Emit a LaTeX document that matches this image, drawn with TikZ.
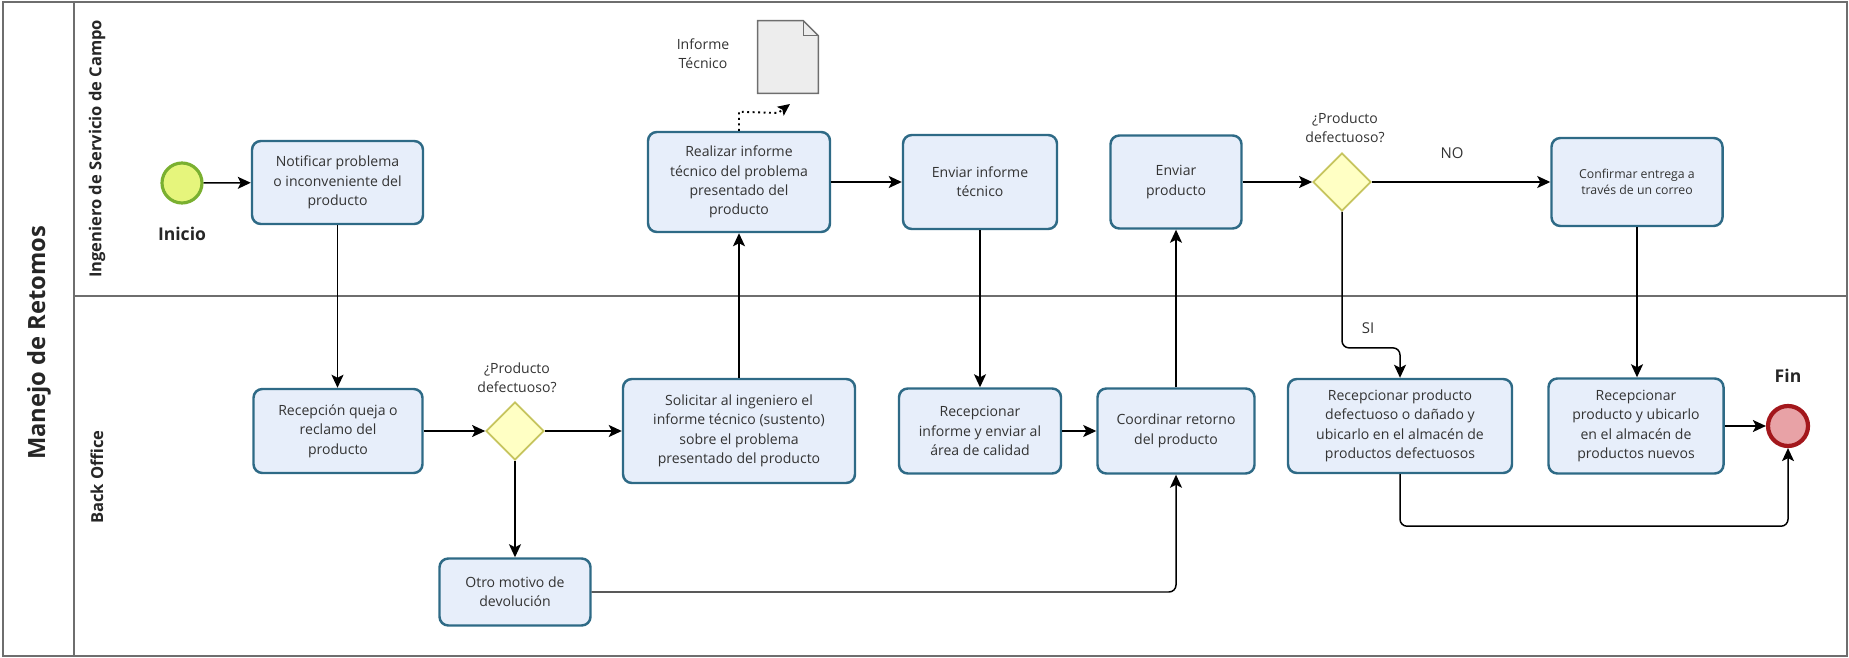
\documentclass[tikz,border=0pt]{standalone}
\usepackage{fontspec}
\setmainfont{Open Sans}
\usetikzlibrary{arrows.meta,shapes.geometric,calc}

\definecolor{taskfill}{HTML}{E7EEFA}
\definecolor{taskline}{HTML}{2E6A86}
\definecolor{gwfill}{HTML}{FFFFC4}
\definecolor{gwline}{HTML}{C6C45E}
\definecolor{startfill}{HTML}{E6F57C}
\definecolor{startline}{HTML}{7AB030}
\definecolor{endfill}{HTML}{E8A2A6}
\definecolor{endline}{HTML}{A3171C}
\definecolor{framecol}{HTML}{6E6E6E}
\definecolor{docfill}{HTML}{EDEDED}
\definecolor{txt}{HTML}{333333}

\tikzset{
  task/.style={draw=taskline, fill=taskfill, line width=1.4pt, rounded corners=5pt,
    align=center, font=\fontsize{8}{11}\selectfont, text=txt, inner sep=2pt},
  boxsize/.style 2 args={minimum width=#1*0.02cm, minimum height=#2*0.02cm},
  gateway/.style={diamond, draw=gwline, fill=gwfill, line width=1pt,
    minimum width=58*0.02cm, minimum height=58*0.02cm, inner sep=0pt},
  startev/.style={circle, draw=startline, fill=startfill, line width=1.8pt,
    minimum size=40*0.02cm, inner sep=0pt},
  endev/.style={circle, draw=endline, fill=endfill, line width=2.4pt,
    minimum size=40*0.02cm, inner sep=0pt},
  flow/.style={-{Stealth[length=0.26cm,width=0.24cm,inset=0.06cm]}, line width=0.85pt,
    rounded corners=4pt},
  plain/.style={font=\fontsize{8}{11}\selectfont, text=txt, align=center, inner sep=1pt},
  evlabel/.style={font=\bfseries\fontsize{10}{12}\selectfont, text=black!85, inner sep=1pt},
  lanelabel/.style={rotate=90, font=\bfseries\fontsize{9.4}{11}\selectfont, text=black!85},
}

\begin{document}
\begin{tikzpicture}[x=0.02cm, y=-0.02cm]
\useasboundingbox (0,0) rectangle (1849,658);

% pool frame and lanes
\draw[framecol, line width=1pt] (3,2) rectangle (1847,656);
\draw[framecol, line width=1pt] (74,2) -- (74,656);
\draw[framecol, line width=1pt] (74,296) -- (1847,296);

\node[rotate=90, font=\bfseries\fontsize{13.5}{15}\selectfont, text=black!85] (pool) at (39,343) {Manejo de Retomos};
\node[lanelabel] (laneA) at (97,149) {Ingeniero de Servicio de Campo};
\node[lanelabel] (laneB) at (97,477) {Back Office};

% events
\node[startev] (start) at (182,183) {};
\node[evlabel] (startlbl) at (182,234) {Inicio};
\node[endev] (fin) at (1788,426) {};
\node[evlabel] (finlbl) at (1788,376) {Fin};

% upper lane tasks
\node[task, boxsize={171}{83}] (notif) at (337.5,182.5) {Notificar problema\\o inconveniente del\\producto};
\node[task, boxsize={182}{100}] (real) at (739,182) {Realizar informe\\técnico del problema\\presentado del\\producto};
\node[task, boxsize={154}{94}] (envinf) at (980,182) {Enviar informe\\técnico};
\node[task, boxsize={131}{93}] (envprod) at (1176,182) {Enviar\\producto};
\node[gateway] (gw2) at (1342,182) {};
\node[plain] (gw2lbl) at (1345,128) {¿Producto\\defectuoso?};
\node[task, boxsize={171}{88}, font=\fontsize{7}{9.5}\selectfont] (conf) at (1637,182) {Confirmar entrega a\\través de un correo};

% lower lane tasks
\node[task, boxsize={169}{84}] (recq) at (338,431) {Recepción queja o\\reclamo del\\producto};
\node[gateway] (gw1) at (515,431) {};
\node[plain] (gw1lbl) at (517,378) {¿Producto\\defectuoso?};
\node[task, boxsize={232}{104}] (solic) at (739,431) {Solicitar al ingeniero el\\informe técnico (sustento)\\sobre el problema\\presentado del producto};
\node[task, boxsize={151}{67}] (otro) at (515,592) {Otro motivo de\\devolución};
\node[task, boxsize={162}{85}] (recinf) at (980,431) {Recepcionar\\informe y enviar al\\área de calidad};
\node[task, boxsize={157}{85}] (coord) at (1176,431) {Coordinar retorno\\del producto};
\node[task, boxsize={224}{94}] (recdef) at (1400,426) {Recepcionar producto\\defectuoso o dañado y\\ubicarlo en el almacén de\\productos defectuosos};
\node[task, boxsize={175}{95}] (recnew) at (1636,426) {Recepcionar\\producto y ubicarlo\\en el almacén de\\productos nuevos};

% data object
\node[minimum width=60*0.02cm, minimum height=72*0.02cm, inner sep=0pt] (doc) at (788,57) {};
\draw[framecol, fill=docfill, line width=0.8pt]
  (doc.north west) -- ($(doc.north east)+(-15,0)$) -- ($(doc.north east)+(0,15)$)
  -- (doc.south east) -- (doc.south west) -- cycle;
\draw[framecol, line width=0.6pt] ($(doc.north east)+(-15,0)$) -- ++(0,15) -- ++(15,0);
\node[plain] (doclbl) at (703,54) {Informe\\Técnico};
\coordinate (assocend) at (790,104);
\draw[dotted, line width=1.1pt, -{Stealth[length=0.24cm,width=0.22cm,inset=0.05cm]}]
  (real.north) -- ++(0,-19) -- (778,113) -- (assocend);

% sequence flows
\draw[flow] (start) -- (notif);
\draw[flow] (notif.south) -- (notif.south |- recq.north);
\draw[flow] (recq) -- (gw1);
\draw[flow] (gw1) -- (solic);
\draw[flow] (gw1) -- (otro);
\draw[flow] (solic.north) -- (solic.north |- real.south);
\draw[flow] (real) -- (envinf);
\draw[flow] (envinf.south) -- (envinf.south |- recinf.north);
\draw[flow] (recinf) -- (coord);
\draw[flow] (otro.east) -| (coord.south);
\draw[flow] (coord.north) -- (coord.north |- envprod.south);
\draw[flow] (envprod) -- (gw2);
\draw[flow] (gw2.east) -- node[plain, above=12pt, pos=0.45, font=\fontsize{8.5}{10}\selectfont] (nolbl) {NO} (gw2.east -| conf.west);
\draw[flow] (gw2.south) -- ++(0,136) -| (recdef.north);
\node[plain, font=\fontsize{8.5}{10}\selectfont] (silbl) at (1368,328) {SI};
\draw[flow] (conf.south) -- (conf.south |- recnew.north);
\draw[flow] (recnew) -- (fin);
\draw[flow] (recdef.south) -- ++(0,52) -| (fin.south);
\end{tikzpicture}
\end{document}
